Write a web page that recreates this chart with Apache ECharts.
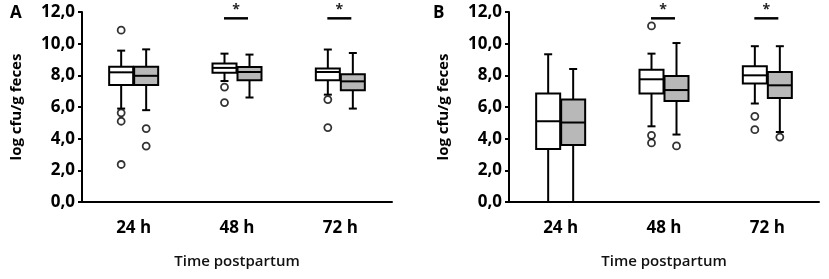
<!DOCTYPE html>
<html>
<head>
<meta charset="utf-8">
<script src="https://cdn.jsdelivr.net/npm/echarts@6/dist/echarts.min.js"></script>
<style>
  html, body { margin: 0; padding: 0; background: #fff; }
  #chart { width: 829px; height: 279px; }
</style>
</head>
<body>
<div id="chart"></div>
<script>
const categories = ["24 h", "48 h", "72 h"];
const yTicks = [0, 2, 4, 6, 8, 10, 12];

// box rows: [category index, min, Q1, median, Q3, max]
const boxA_white = [
  [0, 5.9, 7.39, 8.19, 8.54, 9.56],
  [1, 7.64, 8.17, 8.47, 8.74, 9.37],
  [2, 6.78, 7.69, 8.21, 8.43, 9.63]
];
const boxA_grey = [
  [0, 5.8, 7.39, 7.97, 8.54, 9.64],
  [1, 6.6, 7.69, 8.21, 8.53, 9.31],
  [2, 5.9, 7.06, 7.62, 8.07, 9.41]
];
const boxB_white = [
  [0, 0, 3.35, 5.1, 6.86, 9.33],
  [1, 4.78, 6.85, 7.75, 8.36, 9.37],
  [2, 6.22, 7.48, 8.0, 8.57, 9.84]
];
const boxB_grey = [
  [0, 0, 3.6, 5.02, 6.48, 8.4],
  [1, 4.26, 6.38, 7.07, 7.96, 10.04],
  [2, 4.42, 6.57, 7.37, 8.21, 9.84]
];

// outliers: [category index, value]
const outA_white = [[0, 10.85], [0, 5.63], [0, 5.1], [0, 2.37], [1, 7.26], [1, 6.28], [2, 6.47], [2, 4.7]];
const outA_grey = [[0, 4.64], [0, 3.53]];
const outB_white = [[1, 11.12], [1, 4.21], [1, 3.73], [2, 5.41], [2, 4.57]];
const outB_grey = [[1, 3.54], [2, 4.1]];

// time points marked as significant (*)
const sigA = [1, 2];
const sigB = [1, 2];

const FONT = "Open Sans";
const BOX_W = 24;
const HALF_GAP = 12.5;

function boxRender(offset, fill) {
  return function (params, api) {
    const c = api.value(0);
    const pMin = api.coord([c, api.value(1)]);
    const pQ1 = api.coord([c, api.value(2)]);
    const pMed = api.coord([c, api.value(3)]);
    const pQ3 = api.coord([c, api.value(4)]);
    const pMax = api.coord([c, api.value(5)]);
    const x = pMed[0] + offset;
    const line = { stroke: "#000", lineWidth: 2 };
    return {
      type: "group",
      children: [
        { type: "line", shape: { x1: x, y1: pQ3[1], x2: x, y2: pMax[1] }, style: line },
        { type: "line", shape: { x1: x - 4, y1: pMax[1], x2: x + 4, y2: pMax[1] }, style: line },
        { type: "line", shape: { x1: x, y1: pQ1[1], x2: x, y2: pMin[1] }, style: line },
        { type: "line", shape: { x1: x - 4, y1: pMin[1], x2: x + 4, y2: pMin[1] }, style: line },
        {
          type: "rect",
          shape: { x: x - BOX_W / 2, y: pQ3[1], width: BOX_W, height: pQ1[1] - pQ3[1] },
          style: { fill: fill, stroke: "#000", lineWidth: 2 }
        },
        { type: "line", shape: { x1: x - BOX_W / 2, y1: pMed[1], x2: x + BOX_W / 2, y2: pMed[1] }, style: line }
      ]
    };
  };
}

function sigRender(params, api) {
  const c = api.value(0);
  const pBar = api.coord([c, 11.6]);
  const pStar = api.coord([c, 12.15]);
  const x = pBar[0] - 1;
  return {
    type: "group",
    children: [
      { type: "line", shape: { x1: x - 12, y1: pBar[1], x2: x + 12, y2: pBar[1] }, style: { stroke: "#000", lineWidth: 2.5 } },
      {
        type: "text",
        x: x,
        y: pStar[1],
        style: { text: "*", fill: "#222", font: "bold 14px " + FONT, align: "center", verticalAlign: "middle" }
      }
    ]
  };
}

function xAxisOpt(gridIndex) {
  return {
    type: "category",
    gridIndex: gridIndex,
    data: categories,
    name: "Time postpartum",
    nameLocation: "middle",
    nameGap: 52,
    nameTextStyle: { fontFamily: FONT, fontSize: 15, fontWeight: 600, color: "#111" },
    axisLine: { lineStyle: { color: "#000", width: 2 } },
    axisTick: { show: false },
    axisLabel: { margin: 18, fontFamily: FONT, fontSize: 17, fontWeight: "bold", color: "#000" }
  };
}

function yAxisOpt(gridIndex) {
  return {
    type: "value",
    gridIndex: gridIndex,
    min: yTicks[0],
    max: yTicks[yTicks.length - 1],
    interval: 2,
    name: "log cfu/g feces",
    nameLocation: "middle",
    nameGap: 58,
    nameTextStyle: { fontFamily: FONT, fontSize: 15, fontWeight: "bold", color: "#000" },
    axisLine: { show: true, lineStyle: { color: "#000", width: 2 } },
    axisTick: { show: true, length: 4, lineStyle: { color: "#000", width: 2 } },
    splitLine: { show: false },
    axisLabel: {
      margin: 7,
      fontFamily: FONT,
      fontSize: 17,
      fontWeight: "bold",
      color: "#000",
      formatter: function (v) { return v.toFixed(1).replace(".", ","); }
    }
  };
}

function outlierSeries(idx, data, offset) {
  return {
    type: "scatter",
    xAxisIndex: idx,
    yAxisIndex: idx,
    data: data,
    symbol: "circle",
    symbolSize: 7,
    symbolOffset: [offset, 0],
    itemStyle: { color: "#fff", borderColor: "#000", borderWidth: 1.8 },
    z: 3
  };
}

function boxSeries(idx, data, offset, fill) {
  return {
    type: "custom",
    xAxisIndex: idx,
    yAxisIndex: idx,
    data: data,
    encode: { x: 0, y: [1, 2, 3, 4, 5] },
    renderItem: boxRender(offset, fill),
    z: 2
  };
}

function sigSeries(idx, data) {
  return {
    type: "custom",
    xAxisIndex: idx,
    yAxisIndex: idx,
    data: data.map(function (d) { return [d]; }),
    encode: { x: 0 },
    renderItem: sigRender,
    z: 2
  };
}

const myChart = echarts.init(document.getElementById("chart"));
myChart.setOption({
  animation: false,
  title: [
    { text: "A", left: 5, top: 0, textStyle: { fontFamily: FONT, fontSize: 17, fontWeight: "bold", color: "#000" } },
    { text: "B", left: 428, top: 0, textStyle: { fontFamily: FONT, fontSize: 17, fontWeight: "bold", color: "#000" } }
  ],
  grid: [
    { left: 82, top: 12, width: 310, height: 190 },
    { left: 509, top: 12, width: 310, height: 190 }
  ],
  xAxis: [xAxisOpt(0), xAxisOpt(1)],
  yAxis: [yAxisOpt(0), yAxisOpt(1)],
  series: [
    boxSeries(0, boxA_white, -HALF_GAP, "#fff"),
    boxSeries(0, boxA_grey, HALF_GAP, "#b8b8b8"),
    outlierSeries(0, outA_white, -HALF_GAP),
    outlierSeries(0, outA_grey, HALF_GAP),
    sigSeries(0, sigA),
    boxSeries(1, boxB_white, -HALF_GAP, "#fff"),
    boxSeries(1, boxB_grey, HALF_GAP, "#b8b8b8"),
    outlierSeries(1, outB_white, -HALF_GAP),
    outlierSeries(1, outB_grey, HALF_GAP),
    sigSeries(1, sigB)
  ]
});
</script>
</body>
</html>
